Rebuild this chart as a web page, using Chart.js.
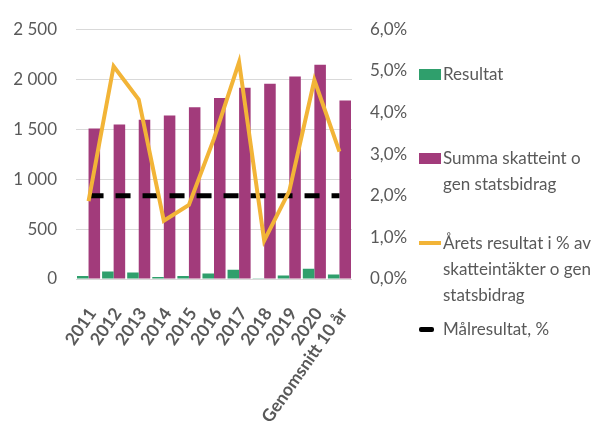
<!DOCTYPE html>
<html>
<head>
<meta charset="utf-8">
<script src="https://cdn.jsdelivr.net/npm/chart.js@4"></script>
<style>
  body { margin: 0; background: #fff; }
  #wrap { position: relative; width: 606px; height: 432px; }
  #legend { position: absolute; left: 418px; top: 0; font: 17px Lato, sans-serif; color: #595959; }
  .item { position: absolute; left: 0; width: 190px; line-height: 26px; white-space: nowrap; }
  .item span.txt { position: absolute; left: 25px; top: 0; }
  .mk { position: absolute; left: 1px; }
</style>
</head>
<body>
<div id="wrap">
  <canvas id="chart" width="606" height="432"></canvas>
  <div id="legend"></div>
</div>
<script>
// Kategorier
const years = ["2011", "2012", "2013", "2014", "2015", "2016", "2017", "2018", "2019", "2020", "Genomsnitt 10 år"];

// mnkr
const resultat = [30, 76, 66, 20, 30, 56, 92, 7, 36, 102, 46];
const summaSkatt = [1505, 1545, 1594, 1637, 1719, 1811, 1914, 1953, 2026, 2144, 1786];

// procent
const resultatProcent = [1.87, 5.11, 4.31, 1.40, 1.78, 3.37, 5.21, 0.92, 2.11, 4.78, 3.06];
const malResultat = [2.0, 2.0, 2.0, 2.0, 2.0, 2.0, 2.0, 2.0, 2.0, 2.0, 2.0];

const leftTicks = [0, 500, 1000, 1500, 2000, 2500];

const green = "#2f9f6c";
const purple = "#a23b7b";
const orange = "#f2b437";
const textColor = "#595959";

const data = {
  labels: years,
  datasets: [
    {
      type: "line",
      label: "Årets resultat i % av skatteintäkter o gen statsbidrag",
      data: resultatProcent,
      borderColor: orange,
      borderWidth: 4,
      pointRadius: 0,
      tension: 0,
      yAxisID: "y1",
      order: 0,
    },
    {
      type: "line",
      label: "Målresultat, %",
      data: malResultat,
      borderColor: "#000",
      borderWidth: 5,
      borderDash: [15, 12],
      pointRadius: 0,
      yAxisID: "y1",
      order: 1,
    },
    {
      type: "bar",
      label: "Resultat",
      data: resultat,
      backgroundColor: green,
      yAxisID: "y",
      order: 2,
    },
    {
      type: "bar",
      label: "Summa skatteint o gen statsbidrag",
      data: summaSkatt,
      backgroundColor: purple,
      yAxisID: "y",
      order: 3,
    },
  ],
};

const config = {
  type: "bar",
  data: data,
  options: {
    responsive: false,
    animation: false,
    layout: { padding: { top: 26, left: 0, right: 0, bottom: 0 } },
    datasets: {
      bar: { categoryPercentage: 0.92, barPercentage: 1.0 },
    },
    plugins: {
      legend: { display: false },
      tooltip: { enabled: false },
    },
    scales: {
      x: {
        grid: { display: false },
        border: { display: false },
        ticks: {
          autoSkip: false,
          minRotation: 55,
          maxRotation: 55,
          padding: 17,
          labelOffset: 4,
          color: textColor,
          font: { family: "Lato", size: 17.5, weight: "bold" },
        },
        afterFit: function (scale) {
          scale.height = 153;
        },
      },
      y: {
        position: "left",
        min: 0,
        max: 2500,
        afterBuildTicks: function (scale) {
          scale.ticks = leftTicks.map((v) => ({ value: v }));
        },
        grid: { color: "#d9d9d9", drawTicks: false, lineWidth: 1 },
        border: { display: false },
        ticks: {
          padding: 19,
          color: textColor,
          font: { family: "Lato", size: 17 },
          callback: (v) => String(v).replace(/\B(?=(\d{3})+(?!\d))/g, " "),
        },
        afterFit: function (scale) {
          scale.width = 76;
        },
      },
      y1: {
        position: "right",
        min: 0,
        max: 6,
        grid: { display: false },
        border: { display: false },
        ticks: {
          stepSize: 1,
          padding: 10,
          color: textColor,
          font: { family: "Lato", size: 17 },
          callback: (v) => v.toFixed(1).replace(".", ",") + "%",
        },
        afterFit: function (scale) {
          scale.width = 606 - 352;
        },
      },
    },
  },
};

new Chart(document.getElementById("chart"), config);

// Egen legend till höger
const legendItems = [
  { top: 61, lines: ["Resultat"], mk: "box", color: green },
  { top: 145, lines: ["Summa skatteint o", "gen statsbidrag"], mk: "box", color: purple },
  { top: 230, lines: ["Årets resultat i % av", "skatteintäkter o gen", "statsbidrag"], mk: "line", color: orange },
  { top: 316, lines: ["Målresultat, %"], mk: "dash", color: "#000" },
];

const legend = document.getElementById("legend");
legendItems.forEach((it) => {
  const div = document.createElement("div");
  div.className = "item";
  div.style.top = it.top + "px";
  const mk = document.createElement("div");
  mk.className = "mk";
  if (it.mk === "box") {
    mk.style.cssText += "top:8px;width:22px;height:11px;background:" + it.color;
  } else if (it.mk === "line") {
    mk.style.cssText += "top:11px;width:22px;height:4px;background:" + it.color;
  } else {
    mk.style.cssText += "top:11px;width:15px;height:5px;border-radius:2px;background:" + it.color;
  }
  div.appendChild(mk);
  const txt = document.createElement("span");
  txt.className = "txt";
  txt.innerHTML = it.lines.join("<br>");
  div.appendChild(txt);
  legend.appendChild(div);
});
</script>
</body>
</html>
